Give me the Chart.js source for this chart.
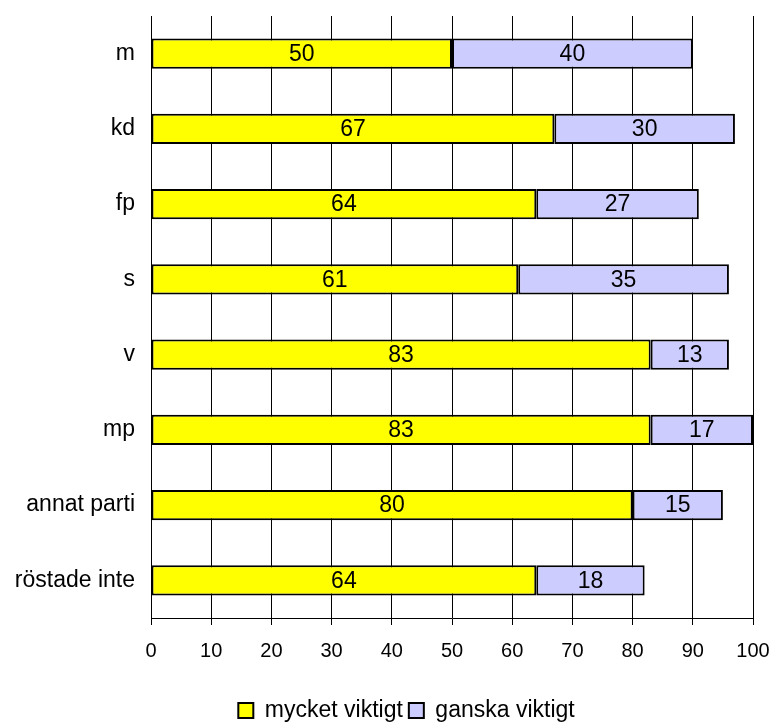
<!DOCTYPE html>
<html>
<head>
<meta charset="utf-8">
<script src="https://cdn.jsdelivr.net/npm/chart.js@4.4.0/dist/chart.umd.min.js"></script>
<style>
  html, body { margin: 0; padding: 0; background: #fff; }
  #wrap { width: 771px; height: 722px; }
</style>
</head>
<body>
<div id="wrap"><canvas id="chart" width="771" height="722"></canvas></div>
<script>
const categories = ['m', 'kd', 'fp', 's', 'v', 'mp', 'annat parti', 'röstade inte'];
const mycketViktigt = [50, 67, 64, 61, 83, 83, 80, 64];
const ganskaViktigt = [40, 30, 27, 35, 13, 17, 15, 18];
const seriesNames = ['mycket viktigt', 'ganska viktigt'];
const xTicks = [0, 10, 20, 30, 40, 50, 60, 70, 80, 90, 100];

const FONT = 'Liberation Sans, Arial, sans-serif';

// draws the value in the middle of each bar segment
const barLabels = {
  id: 'barLabels',
  afterDatasetsDraw(chart) {
    const ctx = chart.ctx;
    ctx.save();
    ctx.font = '23px ' + FONT;
    ctx.fillStyle = '#000';
    ctx.textAlign = 'center';
    ctx.textBaseline = 'middle';
    chart.data.datasets.forEach((ds, i) => {
      chart.getDatasetMeta(i).data.forEach((bar, j) => {
        const p = bar.getProps(['x', 'y', 'base'], true);
        ctx.fillText(ds.data[j], (p.x + p.base) / 2, p.y + 1);
      });
    });
    ctx.restore();
  }
};

// legend sits a little right of the canvas centre in the original
const legendShift = {
  id: 'legendShift',
  afterLayout(chart) {
    chart.legend.left += 30;
    chart.legend.right += 30;
  }
};

const ctx = document.getElementById('chart');
const myChart = new Chart(ctx, {
  type: 'bar',
  data: {
    labels: categories,
    datasets: [
      {
        label: seriesNames[0],
        data: mycketViktigt,
        backgroundColor: '#ffff00',
        borderColor: '#000',
        borderWidth: 2,
        borderSkipped: false
      },
      {
        label: seriesNames[1],
        data: ganskaViktigt,
        backgroundColor: '#ccccff',
        borderColor: '#000',
        borderWidth: 2,
        borderSkipped: false
      }
    ]
  },
  options: {
    indexAxis: 'y',
    responsive: false,
    animation: false,
    barPercentage: 0.4,
    categoryPercentage: 1,
    layout: {
      padding: { left: 0, right: 18, top: 16, bottom: -10 }
    },
    scales: {
      x: {
        stacked: true,
        min: 0,
        max: 100,
        afterBuildTicks: (scale) => {
          scale.ticks = xTicks.map(v => ({ value: v }));
        },
        afterFit: (scale) => {
          scale.height = 75;
          scale.paddingLeft = 0;
          scale.paddingRight = 0;
        },
        grid: {
          color: '#000',
          lineWidth: 1,
          tickLength: 7,
          tickColor: '#000'
        },
        border: { display: true, color: '#000', width: 1 },
        ticks: {
          color: '#000',
          padding: 14,
          maxRotation: 0,
          font: { family: FONT, size: 20 }
        }
      },
      y: {
        stacked: true,
        afterFit: (scale) => {
          scale.width = 151;
          scale.paddingTop = 0;
          scale.paddingBottom = 0;
        },
        grid: { display: false, drawTicks: false },
        border: { display: true, color: '#000', width: 1 },
        ticks: {
          color: '#000',
          padding: 16,
          font: { family: FONT, size: 23 }
        }
      }
    },
    plugins: {
      legend: {
        position: 'bottom',
        labels: {
          color: '#000',
          boxWidth: 15,
          boxHeight: 15,
          padding: 6,
          font: { family: FONT, size: 23 }
        }
      },
      tooltip: { enabled: false }
    }
  },
  plugins: [barLabels, legendShift]
});
</script>
</body>
</html>
